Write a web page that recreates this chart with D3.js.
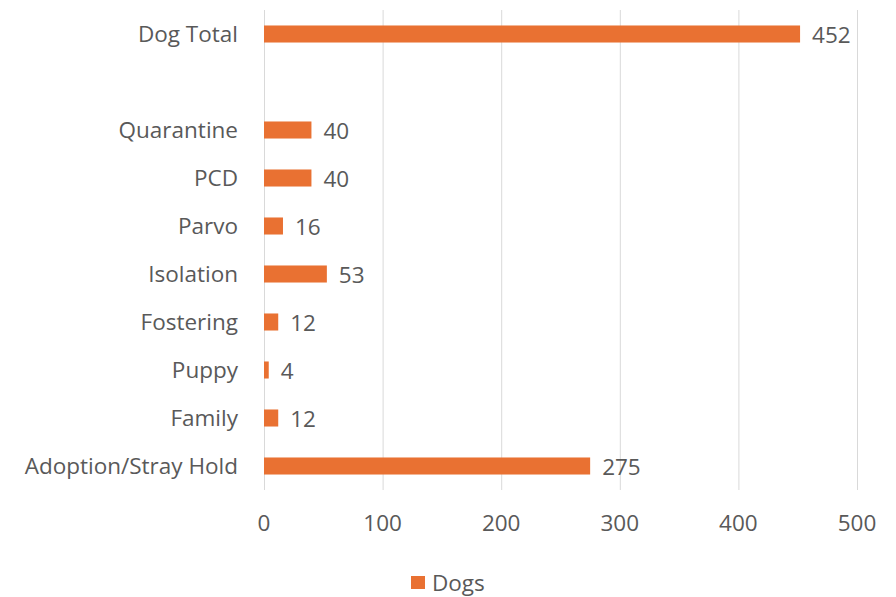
<!DOCTYPE html>
<html><head><meta charset="utf-8">
<script src="https://cdn.jsdelivr.net/npm/d3@7"></script>
<style>body{margin:0;background:#fff}svg{display:block}</style>
</head><body>
<svg id="c" width="896" height="597"></svg>
<script>
const categories = ["Dog Total", "", "Quarantine", "PCD", "Parvo", "Isolation", "Fostering", "Puppy", "Family", "Adoption/Stray Hold"];
const values = [452, null, 40, 40, 16, 53, 12, 4, 12, 275];
const xTicks = [0, 100, 200, 300, 400, 500];
const seriesName = "Dogs";

const svg = d3.select("#c");
const font = "'Open Sans', 'Liberation Sans', sans-serif";
const fs = 22.5;
const textColor = "#595959";
const barColor = "#E97132";

const x = d3.scaleLinear().domain([0, 500]).range([264, 857]);
const y = d3.scaleBand().domain(categories.map((c,i)=>i)).range([10, 490]).paddingInner(0.645).paddingOuter(0.3225);

// gridlines
svg.append("g").selectAll("line").data(xTicks).join("line")
  .attr("x1", d=>x(d)+0.5).attr("x2", d=>x(d)+0.5)
  .attr("y1", 10).attr("y2", 490)
  .attr("stroke", "#d9d9d9").attr("stroke-width", 1);

// x tick labels
svg.append("g").selectAll("text").data(xTicks).join("text")
  .attr("x", d=>x(d)).attr("y", 523).attr("dy", "0.36em")
  .attr("text-anchor", "middle")
  .attr("font-family", font).attr("font-size", fs).attr("fill", textColor)
  .text(d=>d);

const rows = categories.map((c,i)=>({c, v: values[i], i}));

// bars
svg.append("g").selectAll("rect").data(rows.filter(d=>d.v!=null)).join("rect")
  .attr("x", x(0)).attr("y", d=>y(d.i))
  .attr("width", d=>x(d.v)-x(0)).attr("height", y.bandwidth())
  .attr("fill", barColor);

// category labels
svg.append("g").selectAll("text").data(rows).join("text")
  .attr("x", 238).attr("y", d=>y(d.i)+y.bandwidth()/2)
  .attr("dy", "0.36em").attr("text-anchor", "end")
  .attr("font-family", font).attr("font-size", fs).attr("fill", textColor)
  .text(d=>d.c);

// value labels
svg.append("g").selectAll("text").data(rows.filter(d=>d.v!=null)).join("text")
  .attr("x", d=>x(d.v)+12).attr("y", d=>y(d.i)+y.bandwidth()/2)
  .attr("dy", "0.4em")
  .attr("font-family", font).attr("font-size", fs).attr("fill", textColor)
  .text(d=>d.v);

// legend
const lg = svg.append("g");
lg.append("rect").attr("x", 411).attr("y", 576).attr("width", 14).attr("height", 13).attr("fill", barColor);
lg.append("text").attr("x", 432).attr("y", 583).attr("dy", "0.36em")
  .attr("font-family", font).attr("font-size", fs).attr("fill", textColor).text(seriesName);
</script>
</body></html>
